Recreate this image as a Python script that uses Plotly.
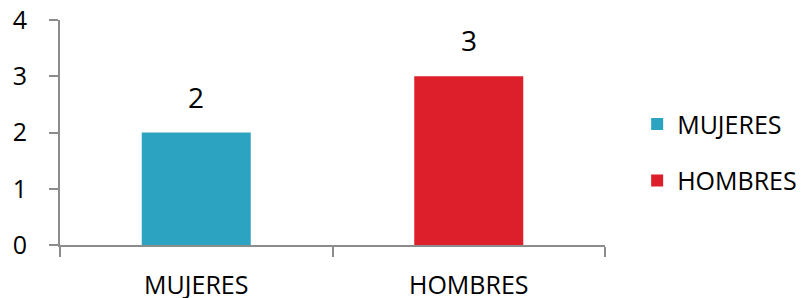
import plotly.graph_objects as go

categories = ["MUJERES", "HOMBRES"]
values = [2, 3]
colors = ["#2ca3c0", "#dc1f2a"]
y_ticks = [0, 1, 2, 3, 4]

FONT = "Open Sans"
fig = go.Figure()
for i, (c, v, col) in enumerate(zip(categories, values, colors)):
    fig.add_trace(go.Bar(
        x=[c], y=[v], name=c, marker=dict(color=col, line=dict(width=0)),
        legendgroup=c, showlegend=True, width=0.4,
    ))
    fig.add_annotation(x=c, y=v, text=str(v), showarrow=False, yanchor="bottom",
                       yshift=15, font=dict(family=FONT, size=28, color="#000"))

axis_col = "#8c8c8c"
fig.update_layout(
    width=796, height=290,
    margin=dict(l=52, r=199, t=12, b=53, autoexpand=False),
    paper_bgcolor="white", plot_bgcolor="white",
    barmode="overlay",
    font=dict(family=FONT, color="#000"),
    showlegend=True,
    legend=dict(x=1.059, y=0.412, xanchor="left", yanchor="middle",
                traceorder="grouped", tracegroupgap=21,
                font=dict(family=FONT, size=25, color="#000")),
    xaxis=dict(type="category", categoryorder="array", categoryarray=categories,
               showline=True, linecolor=axis_col, linewidth=2, automargin=False,
               ticks="outside", tickson="boundaries", ticklen=10, tickcolor=axis_col, tickwidth=2,
               ticklabelstandoff=17, ticklabeloverflow="allow",
               showgrid=False, tickfont=dict(family=FONT, size=25, color="#000")),
    yaxis=dict(range=[0, 4], tickvals=y_ticks, showline=True, linecolor=axis_col, linewidth=2,
               automargin=False,
               ticks="outside", ticklen=9, tickcolor=axis_col, tickwidth=2,
               ticklabelstandoff=17, ticklabeloverflow="allow",
               showgrid=False, zeroline=False,
               tickfont=dict(family=FONT, size=25, color="#000")),
)
fig.write_html("out.html")
